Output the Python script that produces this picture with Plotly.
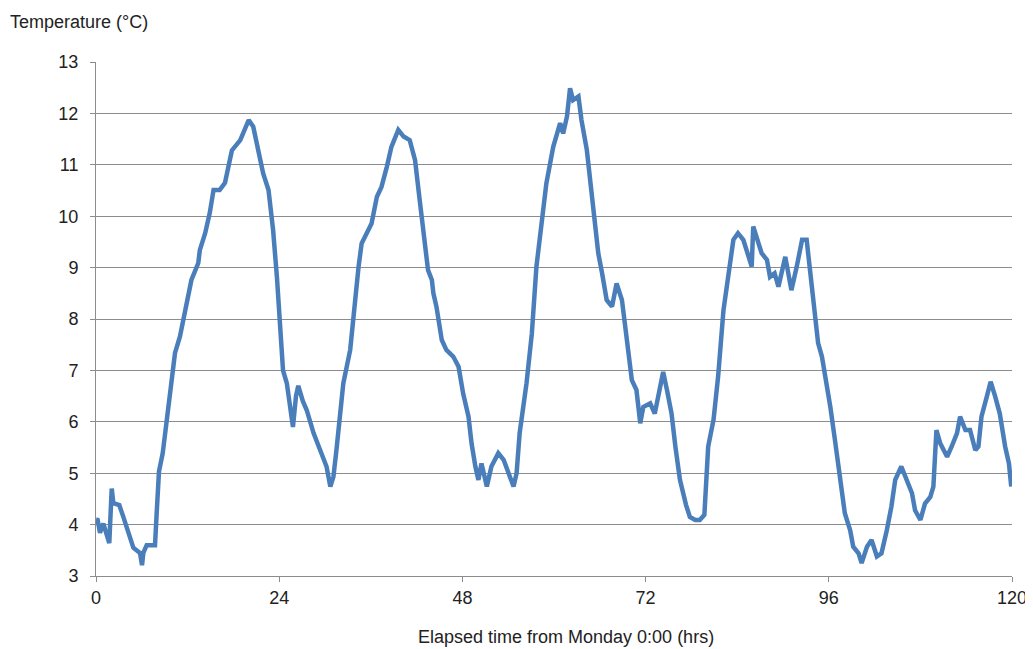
import plotly.graph_objects as go

hours = [0.0, 0.22, 0.52, 0.96, 1.74, 2.06, 2.27, 3.05, 3.58, 4.23, 4.89, 5.76, 6.03, 6.2, 6.64, 7.3, 7.73,
         7.95, 8.25, 8.74, 9.17, 9.47, 9.7, 10.35, 11.0, 11.88, 12.5, 13.4, 13.6, 14.3, 14.9, 15.4, 16.2,
         16.9, 17.3, 17.8, 18.9, 19.3, 20.0, 20.6, 21.3, 21.9, 22.6, 23.2, 23.7, 24.1, 24.5, 25.0, 25.8,
         26.2, 26.5, 27.1, 27.6, 28.5, 29.3, 30.2, 30.7, 31.1, 31.5, 32.0, 32.4, 33.3, 33.9, 34.4, 34.8,
         35.5, 36.1, 36.8, 37.4, 38.1, 38.7, 39.6, 40.3, 41.1, 41.8, 42.4, 43.1, 43.5, 44.0, 44.2, 44.6,
         45.3, 45.9, 46.8, 47.5, 48.1, 48.8, 49.2, 49.7, 50.1, 50.5, 51.2, 51.8, 52.7, 53.4, 54.0, 54.7,
         55.1, 55.5, 56.4, 57.1, 57.7, 58.4, 59.0, 59.9, 60.8, 61.2, 61.7, 62.1, 62.5, 63.2, 63.6, 64.3,
         64.9, 65.4, 65.8, 66.3, 66.9, 67.6, 68.2, 68.9, 69.5, 70.2, 70.8, 71.3, 71.7, 72.6, 73.2, 73.9,
         74.3, 74.8, 75.4, 75.9, 76.5, 77.3, 77.8, 78.5, 79.1, 79.7, 80.2, 80.9, 81.5, 82.2, 82.8, 83.5,
         84.1, 84.8, 85.5, 85.9, 86.1, 86.6, 87.2, 87.9, 88.3, 88.9, 89.4, 90.3, 91.1, 91.8, 92.5, 93.1,
         93.5, 94.2, 94.6, 95.1, 95.5, 96.2, 96.8, 97.5, 98.1, 98.8, 99.2, 99.9, 100.3, 101.0, 101.6,
         102.3, 102.9, 103.6, 104.2, 104.7, 105.5, 106.2, 106.9, 107.3, 108.0, 108.6, 109.3, 109.7,
         110.1, 110.6, 111.5, 112.1, 112.8, 113.2, 113.9, 114.5, 115.2, 115.6, 116.0, 116.7, 117.2,
         117.8, 118.4, 119.1, 119.6, 119.9]
temps = [4.1, 4.09, 3.84, 4.02, 3.64, 4.7, 4.42, 4.38, 4.15, 3.84, 3.55, 3.45, 3.21, 3.45, 3.6, 3.6, 3.6,
         4.23, 5.03, 5.39, 5.9, 6.42, 6.68, 7.34, 7.66, 8.31, 8.76, 9.09, 9.34, 9.67, 10.06, 10.51, 10.51,
         10.65, 10.96, 11.28, 11.48, 11.61, 11.87, 11.74, 11.28, 10.83, 10.51, 9.73, 8.82, 7.92, 7.0, 6.75,
         5.9, 6.5, 6.7, 6.4, 6.23, 5.78, 5.45, 5.13, 4.74, 4.93, 5.45, 6.1, 6.75, 7.4, 8.37, 9.02, 9.47,
         9.67, 9.86, 10.38, 10.57, 10.96, 11.35, 11.68, 11.55, 11.48, 11.09, 10.32, 9.54, 8.95, 8.76, 8.5,
         8.24, 7.59, 7.4, 7.27, 7.07, 6.55, 6.1, 5.58, 5.13, 4.87, 5.19, 4.74, 5.13, 5.39, 5.26, 5.0, 4.74,
         5.0, 5.78, 6.75, 7.72, 9.02, 9.99, 10.64, 11.35, 11.81, 11.61, 11.94, 12.49, 12.26, 12.33, 11.87,
         11.29, 10.44, 9.67, 9.28, 8.89, 8.37, 8.24, 8.69, 8.37, 7.72, 6.81, 6.62, 5.97, 6.29, 6.36, 6.16,
         6.62, 6.97, 6.62, 6.16, 5.52, 4.87, 4.38, 4.15, 4.09, 4.09, 4.19, 5.52, 6.04, 6.88, 8.17, 8.82,
         9.54, 9.67, 9.54, 9.21, 9.02, 9.8, 9.54, 9.28, 9.15, 8.82, 8.89, 8.63, 9.21, 8.56, 9.02, 9.54,
         9.54, 9.02, 8.17, 7.53, 7.27, 6.94, 6.29, 5.65, 4.93, 4.22, 3.89, 3.57, 3.44, 3.25, 3.57, 3.7,
         3.38, 3.44, 3.89, 4.35, 4.87, 5.13, 4.87, 4.61, 4.28, 4.09, 4.41, 4.54, 4.74, 5.84, 5.58, 5.32,
         5.52, 5.78, 6.1, 5.84, 5.84, 5.45, 5.52, 6.1, 6.49, 6.78, 6.49, 6.16, 5.52, 5.19, 4.74]

x_ticks = [0, 24, 48, 72, 96, 120]
y_ticks = [3, 4, 5, 6, 7, 8, 9, 10, 11, 12, 13]
y_title = "Temperature (°C)"
x_title = "Elapsed time from Monday 0:00 (hrs)"

font_family = "Liberation Sans, Arial, sans-serif"
grid_col = "#8c8c8c"

fig = go.Figure()
fig.add_trace(go.Scatter(x=hours, y=temps, mode="lines",
                         line=dict(color="#4a7ebb", width=4.5), showlegend=False))

fig.update_layout(
    width=1025, height=641,
    margin=dict(l=88, r=21, t=54, b=73),
    plot_bgcolor="white", paper_bgcolor="white",
    font=dict(family=font_family, size=18, color="#222222"),
    xaxis=dict(range=[0, 120], tickvals=x_ticks, ticks="outside", ticklen=5, tickcolor=grid_col,
               showline=True, linecolor=grid_col, linewidth=1, showgrid=False, zeroline=False,
               tickfont=dict(size=18), automargin=False, ticklabeloverflow="allow"),
    yaxis=dict(range=[3, 13], tickvals=y_ticks, ticks="outside", ticklen=5, tickcolor=grid_col,
               showline=True, linecolor=grid_col, linewidth=1, showgrid=True, gridcolor=grid_col,
               gridwidth=1, zeroline=False, tickfont=dict(size=18), ticklabelstandoff=8,
               automargin=False, ticklabeloverflow="allow"),
    annotations=[
        dict(text=y_title, xref="paper", yref="paper", x=-0.096, y=1.0, yshift=40,
             xanchor="left", yanchor="middle", showarrow=False, font=dict(size=18)),
        dict(text=x_title, xref="paper", yref="paper", x=0.513, y=0, yshift=-61,
             xanchor="center", yanchor="middle", showarrow=False, font=dict(size=18)),
    ],
)

fig.write_html("out.html")
